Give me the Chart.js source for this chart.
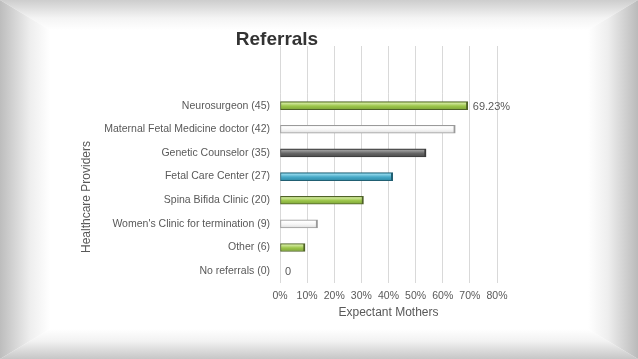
<!DOCTYPE html>
<html>
<head>
<meta charset="utf-8">
<script src="https://cdn.jsdelivr.net/npm/chart.js@4"></script>
<style>
  html, body { margin: 0; padding: 0; }
  body { width: 638px; height: 359px; position: relative; overflow: hidden; background: #fff; font-family: "Liberation Sans", Arial, sans-serif; }
  .edge { position: absolute; }
  #edgeTop { left: 0; top: 0; width: 638px; height: 30px; background: linear-gradient(to bottom, #cdcdcd, #f4f4f4 60%, #fff);
             clip-path: polygon(0 0, 638px 0, 588px 30px, 50px 30px); }
  #edgeBottom { left: 0; bottom: 0; width: 638px; height: 30px; background: linear-gradient(to top, #c6c6c6, #f2f2f2 60%, #fff);
             clip-path: polygon(50px 0, 588px 0, 638px 30px, 0 30px); }
  #edgeLeft { left: 0; top: 0; width: 50px; height: 359px; background: linear-gradient(to right, #bdbdbd, #eeeeee 60%, #fff);
             clip-path: polygon(0 0, 50px 30px, 50px 329px, 0 359px); }
  #edgeRight { right: 0; top: 0; width: 50px; height: 359px; background: linear-gradient(to left, #bababa, #eeeeee 60%, #fff);
             clip-path: polygon(0 30px, 50px 0, 50px 359px, 0 329px); }
  #wrap { position: absolute; left: 0; top: 0; width: 554px; height: 359px; }
</style>
</head>
<body>
<div class="edge" id="edgeTop"></div>
<div class="edge" id="edgeBottom"></div>
<div class="edge" id="edgeLeft"></div>
<div class="edge" id="edgeRight"></div>
<div id="wrap"><canvas id="refChart" width="554" height="359"></canvas></div>
<script>
const categories = [
    'Neurosurgeon (45)',
    'Maternal Fetal Medicine doctor (42)',
    'Genetic Counselor (35)',
    'Fetal Care Center (27)',
    'Spina Bifida Clinic (20)',
    "Women's Clinic for termination (9)",
    'Other (6)',
    'No referrals (0)'
];
const percentages = [69.23, 64.62, 53.85, 41.54, 30.77, 13.85, 9.23, 0];
const tickLabels = ['0%', '10%', '20%', '30%', '40%', '50%', '60%', '70%', '80%'];
const labeledBars = [0, 7];

// light, mid, dark, border
const paletas = {
    verde:  ['#cfe69a', '#9cc64a', '#7ea43a', '#4f6228'],
    blanco: ['#ffffff', '#f6f6f6', '#dedede', '#9a9a9a'],
    gris:   ['#9a9a9a', '#666666', '#4a4a4a', '#3a3a3a'],
    azul:   ['#8fd6ea', '#48aac8', '#2f8aa6', '#215f72']
};
const barColors = ['verde', 'blanco', 'gris', 'azul', 'verde', 'blanco', 'verde', 'verde'];

const gridColor = '#d9d9d9';
const textColor = '#595959';
const fuente = '"Liberation Sans", Arial, sans-serif';

function relleno(ctx) {
    const p = paletas[barColors[ctx.dataIndex]] || paletas.verde;
    const y = ctx.chart.scales.y;
    if (!y || ctx.dataIndex === undefined) return p[1];
    const py = y.getPixelForValue(ctx.dataIndex);
    if (!isFinite(py)) return p[1];
    const g = ctx.chart.ctx.createLinearGradient(0, py - 4, 0, py + 4);
    g.addColorStop(0, p[2]);
    g.addColorStop(0.2, p[0]);
    g.addColorStop(0.55, p[1]);
    g.addColorStop(1, p[2]);
    return g;
}

const gridArriba = {
    id: 'gridArriba',
    beforeDatasetsDraw(chart) {
        const { ctx, chartArea, scales } = chart;
        ctx.save();
        ctx.strokeStyle = gridColor;
        ctx.lineWidth = 1;
        scales.x.ticks.forEach(t => {
            const px = Math.round(scales.x.getPixelForValue(t.value) - 0.5) + 0.5;
            ctx.beginPath();
            ctx.moveTo(px, 46);
            ctx.lineTo(px, chartArea.top);
            ctx.stroke();
        });
        // titulo del eje vertical
        ctx.fillStyle = textColor;
        ctx.font = '12px ' + fuente;
        ctx.textAlign = 'center';
        ctx.textBaseline = 'middle';
        ctx.translate(87, 197);
        ctx.rotate(-Math.PI / 2);
        ctx.fillText('Healthcare Providers', 0, 0);
        ctx.restore();
    }
};

const etiquetas = {
    id: 'etiquetas',
    afterDatasetsDraw(chart) {
        const { ctx } = chart;
        const meta = chart.getDatasetMeta(0);
        ctx.save();
        ctx.fillStyle = textColor;
        ctx.font = '11px ' + fuente;
        ctx.textBaseline = 'middle';
        ctx.textAlign = 'left';
        labeledBars.forEach(i => {
            const bar = meta.data[i];
            const v = percentages[i];
            const txt = v === 0 ? '0' : v.toFixed(2) + '%';
            ctx.fillText(txt, bar.x + 5, bar.y + 1);
        });
        ctx.restore();
    }
};

const ctx = document.getElementById('refChart').getContext('2d');
const refChart = new Chart(ctx, {
    type: 'bar',
    data: {
        labels: categories,
        datasets: [{
            data: percentages,
            backgroundColor: relleno,
            borderColor: c => (paletas[barColors[c.dataIndex]] || paletas.verde)[3],
            borderWidth: { top: 1, bottom: 1, left: 1, right: 2 },
            borderSkipped: false,
            barThickness: 8
        }]
    },
    options: {
        indexAxis: 'y',
        responsive: false,
        animation: false,
        layout: { padding: { left: 57, right: 57, top: 0, bottom: 39 } },
        plugins: {
            legend: { display: false },
            tooltip: { enabled: false },
            title: {
                display: true,
                text: 'Referrals',
                color: '#333333',
                font: { family: fuente, size: 19, weight: 'bold' },
                padding: { top: 28, bottom: 43 }
            }
        },
        scales: {
            x: {
                min: 0,
                max: 80,
                afterFit(scale) { scale.height = 37; },
                ticks: {
                    stepSize: 10,
                    color: textColor,
                    padding: 7,
                    font: { family: fuente, size: 10.5 },
                    callback: (v, i) => tickLabels[i]
                },
                grid: { color: gridColor, drawTicks: false },
                border: { display: false },
                title: {
                    display: true,
                    text: 'Expectant Mothers',
                    color: textColor,
                    font: { family: fuente, size: 12 },
                    padding: { top: 4, bottom: 0 }
                }
            },
            y: {
                afterFit(scale) { scale.width = 223; },
                ticks: {
                    color: textColor,
                    padding: 2,
                    font: { family: fuente, size: 10.5 }
                },
                grid: { display: false },
                border: { display: false },
                title: { display: false }
            }
        }
    },
    plugins: [gridArriba, etiquetas]
});
</script>
</body>
</html>
